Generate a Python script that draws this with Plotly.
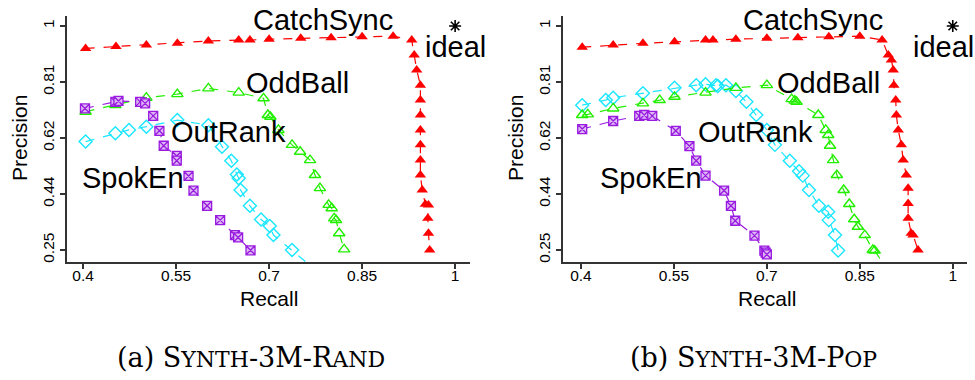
import plotly.graph_objects as go

# ---------------- data: (a) SYNTH-3M-RAND ----------------
a_catch_x = [0.404, 0.453, 0.502, 0.552, 0.602, 0.651, 0.669, 0.700, 0.751, 0.800, 0.850, 0.900,
             0.930, 0.934, 0.938, 0.944, 0.944, 0.944, 0.944, 0.944, 0.944, 0.944, 0.947, 0.952,
             0.957, 0.956, 0.957, 0.959]
a_catch_y = [0.925, 0.931, 0.936, 0.942, 0.950, 0.953, 0.953, 0.956, 0.959, 0.961, 0.964, 0.966,
             0.953, 0.903, 0.853, 0.802, 0.752, 0.702, 0.652, 0.602, 0.551, 0.501, 0.451, 0.403,
             0.401, 0.356, 0.306, 0.250]

a_odd_x = [0.404, 0.452, 0.502, 0.552, 0.602, 0.651, 0.691, 0.698, 0.702, 0.715, 0.737, 0.750,
           0.766, 0.774, 0.782, 0.796, 0.801, 0.805, 0.808, 0.813, 0.821]
a_odd_y = [0.713, 0.735, 0.760, 0.772, 0.791, 0.777, 0.758, 0.702, 0.696, 0.652, 0.602, 0.579,
           0.551, 0.501, 0.457, 0.401, 0.390, 0.356, 0.350, 0.306, 0.252]

a_out_x = [0.404, 0.452, 0.474, 0.502, 0.552, 0.602, 0.624, 0.639, 0.648, 0.651, 0.654, 0.669,
           0.687, 0.701, 0.707, 0.737, 0.765]
a_out_y = [0.613, 0.641, 0.652, 0.663, 0.685, 0.668, 0.596, 0.549, 0.503, 0.490, 0.451, 0.398,
           0.352, 0.330, 0.300, 0.250, 0.200]

a_spok_x = [0.403, 0.452, 0.457, 0.492, 0.500, 0.513, 0.523, 0.530, 0.551, 0.551, 0.570, 0.578,
            0.600, 0.621, 0.645, 0.650, 0.670]
a_spok_y = [0.724, 0.746, 0.749, 0.746, 0.741, 0.699, 0.649, 0.599, 0.565, 0.549, 0.498, 0.449,
            0.398, 0.350, 0.300, 0.292, 0.249]

# ---------------- data: (b) SYNTH-3M-POP ----------------
b_catch_x = [0.402, 0.452, 0.500, 0.551, 0.601, 0.613, 0.650, 0.700, 0.750, 0.800, 0.850, 0.886,
             0.896, 0.901, 0.904, 0.905, 0.908, 0.909, 0.912, 0.917, 0.920, 0.925, 0.928, 0.928,
             0.928, 0.933, 0.936, 0.944]
b_catch_y = [0.929, 0.936, 0.942, 0.947, 0.953, 0.953, 0.956, 0.959, 0.961, 0.964, 0.966, 0.953,
             0.903, 0.886, 0.853, 0.802, 0.752, 0.702, 0.652, 0.602, 0.551, 0.501, 0.457, 0.406,
             0.356, 0.306, 0.300, 0.250]

b_odd_x = [0.402, 0.411, 0.452, 0.500, 0.527, 0.551, 0.601, 0.650, 0.700, 0.740, 0.745, 0.748,
           0.783, 0.795, 0.799, 0.802, 0.807, 0.813, 0.824, 0.833, 0.841, 0.847, 0.858, 0.871,
           0.874, 0.889]
b_odd_y = [0.702, 0.704, 0.724, 0.741, 0.752, 0.763, 0.777, 0.793, 0.802, 0.755, 0.750, 0.746,
           0.702, 0.652, 0.635, 0.599, 0.551, 0.501, 0.451, 0.404, 0.353, 0.328, 0.300, 0.250,
           0.248, 0.200]

b_out_x = [0.402, 0.440, 0.452, 0.500, 0.551, 0.586, 0.601, 0.618, 0.621, 0.634, 0.650, 0.667,
           0.683, 0.700, 0.713, 0.737, 0.752, 0.758, 0.768, 0.784, 0.799, 0.800, 0.810, 0.815]
b_out_y = [0.735, 0.752, 0.760, 0.775, 0.793, 0.802, 0.805, 0.802, 0.799, 0.802, 0.782, 0.746,
           0.702, 0.652, 0.602, 0.549, 0.514, 0.499, 0.451, 0.398, 0.378, 0.350, 0.300, 0.248]

b_spok_x = [0.402, 0.452, 0.494, 0.502, 0.515, 0.553, 0.575, 0.586, 0.601, 0.631, 0.642, 0.649,
            0.680, 0.696, 0.698, 0.700]
b_spok_y = [0.655, 0.682, 0.699, 0.702, 0.699, 0.649, 0.598, 0.549, 0.499, 0.449, 0.398, 0.348,
            0.298, 0.248, 0.241, 0.235]

ideal_x = [1.0]
ideal_y = [1.0]

x_ticks = [0.4, 0.55, 0.7, 0.85, 1.0]
x_tick_text = ["0.4", "0.55", "0.7", "0.85", "1"]
y_ticks = [0.25, 0.4375, 0.625, 0.8125, 1.0]
y_tick_text = ["0.25", "0.44", "0.62", "0.81", "1"]

method_names = ["CatchSync", "OddBall", "OutRank", "SpokEn"]
captions = ['(a) S<span style="font-size:22px">YNTH</span>-3M-R<span style="font-size:22px">AND</span>',
            '(b) S<span style="font-size:22px">YNTH</span>-3M-P<span style="font-size:22px">OP</span>']

# ---------------- figure ----------------
W, H = 975, 380
SANS = "Liberation Sans, Arial, sans-serif"

fig = go.Figure()

def add_series(x, y, color, symbol, size, xa, ya, fill=None, lw=1.3):
    marker = dict(symbol=symbol, size=size, color=fill if fill else color,
                  line=dict(color=color, width=lw))
    fig.add_trace(go.Scatter(x=x, y=y, mode="lines+markers", xaxis=xa, yaxis=ya,
                             line=dict(color=color, width=1.2, dash="dash"),
                             marker=marker, showlegend=False, cliponaxis=True))

for (xa, ya, cx, cy, ox, oy, rx, ry, sx, sy) in [
        ("x", "y", a_catch_x, a_catch_y, a_odd_x, a_odd_y, a_out_x, a_out_y, a_spok_x, a_spok_y),
        ("x2", "y2", b_catch_x, b_catch_y, b_odd_x, b_odd_y, b_out_x, b_out_y, b_spok_x, b_spok_y)]:
    add_series(rx, ry, "#19E6FF", "diamond-open", 10, xa, ya, lw=1.4)
    add_series(ox, oy, "#22EE00", "triangle-up-open", 10, xa, ya, lw=1.4)
    add_series(sx, sy, "#9A1BE0", "square-x", 9, xa, ya, fill="#DDB8F5", lw=1.3)
    add_series(cx, cy, "#FF0000", "triangle-up", 10, xa, ya, lw=0)
    fig.add_trace(go.Scatter(x=ideal_x, y=ideal_y, mode="markers", xaxis=xa, yaxis=ya,
                             marker=dict(symbol="asterisk-open", size=10, color="black",
                                         line=dict(color="black", width=1.6)),
                             showlegend=False, cliponaxis=False))

axis_common = dict(showline=True, linecolor="#333333", linewidth=1.5, ticks="outside",
                   ticklen=5, tickwidth=1.5, tickcolor="#333333", showgrid=False,
                   zeroline=False, tickfont=dict(family=SANS, size=15.5, color="black"))

ydom = [1 - 262 / H, 1 - 16 / H]
fig.update_layout(
    width=W, height=H, margin=dict(l=0, r=0, t=0, b=0),
    paper_bgcolor="white", plot_bgcolor="white",
    xaxis=dict(domain=[67 / W, 470 / W], range=[0.374, 1.024], tickvals=x_ticks,
               ticktext=x_tick_text, anchor="y", ticklabelstandoff=-6, **axis_common),
    yaxis=dict(domain=ydom, range=[0.2098, 1.0335], tickvals=y_ticks, ticktext=y_tick_text,
               tickangle=-90, anchor="x", **axis_common),
    xaxis2=dict(domain=[563 / W, 967 / W], range=[0.371, 1.023], tickvals=x_ticks,
                ticktext=x_tick_text, anchor="y2", ticklabelstandoff=-6, **axis_common),
    yaxis2=dict(domain=ydom, range=[0.2098, 1.0335], tickvals=y_ticks, ticktext=y_tick_text,
                tickangle=-90, anchor="x2", **axis_common),
)

def px_ann(text, px, py, size, family=SANS, angle=0):
    fig.add_annotation(text=text, x=px / W, y=1 - py / H, xref="paper", yref="paper",
                       xanchor="center", yanchor="middle", showarrow=False, textangle=angle,
                       font=dict(family=family, size=size, color="black"))

# axis titles
px_ann("Recall", 269, 298, 21)
px_ann("Recall", 767, 298, 21)
px_ann("Precision", 19, 138, 21, angle=-90)
px_ann("Precision", 515, 138, 21, angle=-90)

# method labels
label_pos_a = [(323, 20), (297, 83), (228, 132), (133, 178)]
label_pos_b = [(813, 20), (828, 83), (755, 132), (651, 178)]
for name, (px, py) in zip(method_names, label_pos_a):
    px_ann(name, px, py, 29)
for name, (px, py) in zip(method_names, label_pos_b):
    px_ann(name, px, py, 29)
px_ann("ideal", 455, 47, 29)
px_ann("ideal", 943, 47, 29)

# captions
px_ann(captions[0], 251.5, 357.5, 27, family="DejaVu Serif, serif")
px_ann(captions[1], 753, 357.5, 27, family="DejaVu Serif, serif")

fig.write_html("out.html")
